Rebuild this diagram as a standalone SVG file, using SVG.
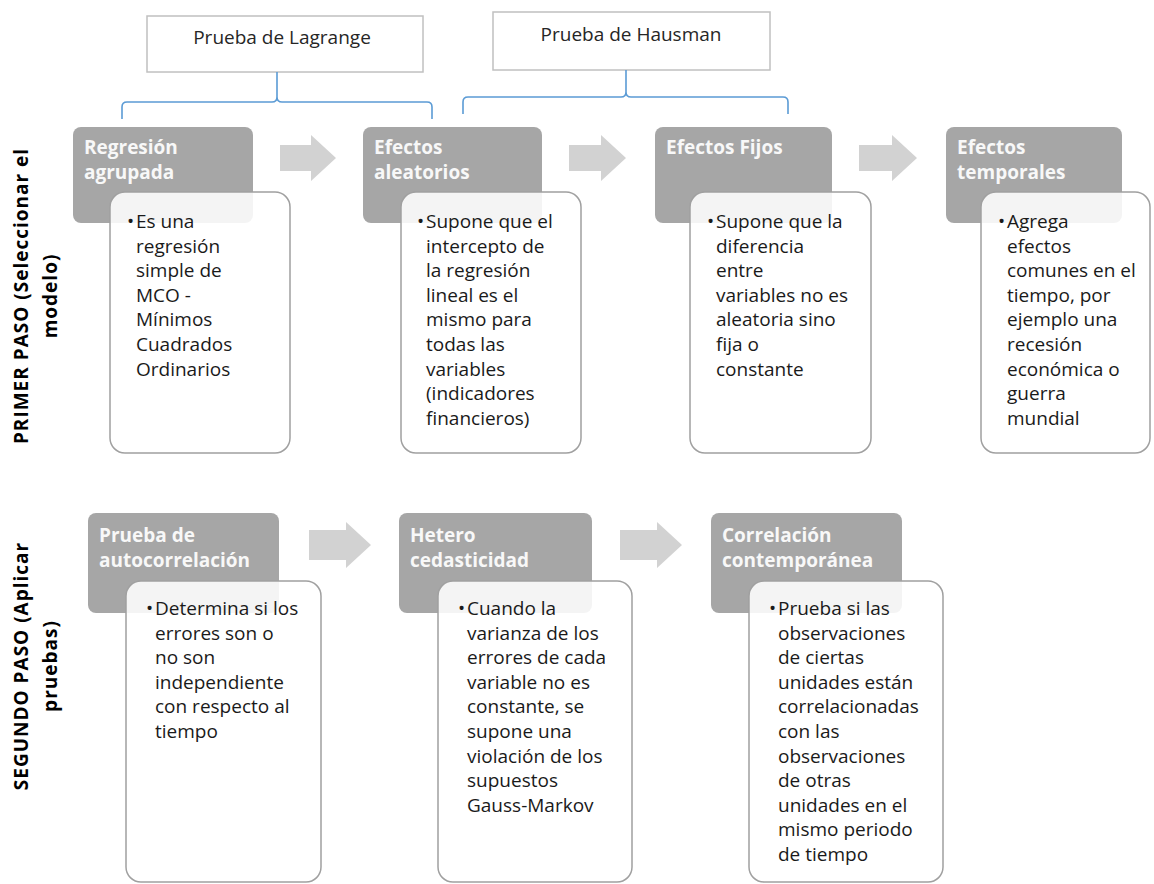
<svg xmlns="http://www.w3.org/2000/svg" width="1154" height="884" viewBox="0 0 1154 884">
<style>
.top{fill:#fff;stroke:#c0c0c0;stroke-width:1.5}
.toptxt{font-family:"Open Sans",sans-serif;font-size:19px;fill:#262626;text-anchor:middle}
.brace{fill:none;stroke:#5b9bd5;stroke-width:1.6}
.hdr{fill:#a6a6a6}
.hdrtxt{font-family:"Open Sans",sans-serif;font-size:19px;font-weight:bold;fill:#f8f8f8}
.desc{fill:#fff;fill-opacity:0.88;stroke:#a0a0a0;stroke-width:1.5}
.txt{font-family:"Open Sans",sans-serif;font-size:19px;fill:#1a1a1a}
.arrow{fill:#d2d2d2}
.side{font-family:"Open Sans",sans-serif;font-size:19px;font-weight:bold;fill:#000;text-anchor:middle;letter-spacing:1px}
</style>

<g id="side-labels">
<text class="side" transform="translate(28,296) rotate(-90)">PRIMER PASO (Seleccionar el</text>
<text class="side" transform="translate(57,296) rotate(-90)">modelo)</text>
<text class="side" transform="translate(28,666) rotate(-90)">SEGUNDO PASO (Aplicar</text>
<text class="side" transform="translate(57,666) rotate(-90)">pruebas)</text>
</g>

<g id="lagrange">
<rect class="top" x="147" y="16" width="276" height="56"/>
<text class="toptxt" x="282" y="44">Prueba de Lagrange</text>
</g>
<g id="hausman">
<rect class="top" x="493" y="12" width="277" height="58"/>
<text class="toptxt" x="631" y="41">Prueba de Hausman</text>
</g>

<g id="connectors">
<path class="brace" d="M277,72 V97 Q277,102 272,102 H127 Q122,102 122,107 V119 M277,97 Q277,102 282,102 H427 Q432,102 432,107 V119"/>
<path class="brace" d="M626,70 V92 Q626,97 621,97 H468 Q463,97 463,102 V114 M626,92 Q626,97 631,97 H783 Q788,97 788,102 V114"/>
<path class="arrow" d="M280,145 H311 V135 L336,158 L311,181 V171 H280 Z"/>
<path class="arrow" d="M569,145 H601 V135 L626,158 L601,181 V171 H569 Z"/>
<path class="arrow" d="M859,145 H892 V135 L917,158 L892,181 V171 H859 Z"/>
<path class="arrow" d="M309,530 H346 V522 L371,545 L346,568 V560 H309 Z"/>
<path class="arrow" d="M620,530 H657 V522 L682,545 L657,568 V560 H620 Z"/>
</g>

<g id="regresion">
<rect class="hdr" x="73" y="127" width="180" height="96" rx="8"/>
<text class="hdrtxt" x="84" y="154">Regresión</text>
<text class="hdrtxt" x="84" y="179">agrupada</text>
<rect class="desc" x="110" y="192" width="180" height="261" rx="15"/>
<text class="txt" x="127" y="228">•</text>
<text class="txt" x="136" y="228">Es una<tspan x="136" dy="24.6">regresión</tspan><tspan x="136" dy="24.6">simple de</tspan><tspan x="136" dy="24.6">MCO -</tspan><tspan x="136" dy="24.6">Mínimos</tspan><tspan x="136" dy="24.6">Cuadrados</tspan><tspan x="136" dy="24.6">Ordinarios</tspan></text>
</g>

<g id="aleatorios">
<rect class="hdr" x="363" y="127" width="179" height="96" rx="8"/>
<text class="hdrtxt" x="374" y="154">Efectos</text>
<text class="hdrtxt" x="374" y="179">aleatorios</text>
<rect class="desc" x="401" y="192" width="180" height="261" rx="15"/>
<text class="txt" x="417" y="228">•</text>
<text class="txt" x="426" y="228">Supone que el<tspan x="426" dy="24.6">intercepto de</tspan><tspan x="426" dy="24.6">la regresión</tspan><tspan x="426" dy="24.6">lineal es el</tspan><tspan x="426" dy="24.6">mismo para</tspan><tspan x="426" dy="24.6">todas las</tspan><tspan x="426" dy="24.6">variables</tspan><tspan x="426" dy="24.6">(indicadores</tspan><tspan x="426" dy="24.6">financieros)</tspan></text>
</g>

<g id="fijos">
<rect class="hdr" x="655" y="127" width="177" height="96" rx="8"/>
<text class="hdrtxt" x="666" y="154">Efectos Fijos</text>
<rect class="desc" x="690" y="192" width="181" height="261" rx="15"/>
<text class="txt" x="707" y="228">•</text>
<text class="txt" x="716" y="228">Supone que la<tspan x="716" dy="24.6">diferencia</tspan><tspan x="716" dy="24.6">entre</tspan><tspan x="716" dy="24.6">variables no es</tspan><tspan x="716" dy="24.6">aleatoria sino</tspan><tspan x="716" dy="24.6">fija o</tspan><tspan x="716" dy="24.6">constante</tspan></text>
</g>

<g id="temporales">
<rect class="hdr" x="946" y="127" width="176" height="96" rx="8"/>
<text class="hdrtxt" x="957" y="154">Efectos</text>
<text class="hdrtxt" x="957" y="179">temporales</text>
<rect class="desc" x="981" y="192" width="169" height="261" rx="15"/>
<text class="txt" x="998" y="228">•</text>
<text class="txt" x="1007" y="228">Agrega<tspan x="1007" dy="24.6">efectos</tspan><tspan x="1007" dy="24.6">comunes en el</tspan><tspan x="1007" dy="24.6">tiempo, por</tspan><tspan x="1007" dy="24.6">ejemplo una</tspan><tspan x="1007" dy="24.6">recesión</tspan><tspan x="1007" dy="24.6">económica o</tspan><tspan x="1007" dy="24.6">guerra</tspan><tspan x="1007" dy="24.6">mundial</tspan></text>
</g>

<g id="autocorrelacion">
<rect class="hdr" x="88" y="513" width="191" height="100" rx="8"/>
<text class="hdrtxt" x="99" y="542">Prueba de</text>
<text class="hdrtxt" x="99" y="567">autocorrelación</text>
<rect class="desc" x="126" y="581" width="195" height="301" rx="15"/>
<text class="txt" x="146" y="615">•</text>
<text class="txt" x="155" y="615">Determina si los<tspan x="155" dy="24.6">errores son o</tspan><tspan x="155" dy="24.6">no son</tspan><tspan x="155" dy="24.6">independiente</tspan><tspan x="155" dy="24.6">con respecto al</tspan><tspan x="155" dy="24.6">tiempo</tspan></text>
</g>

<g id="heterocedasticidad">
<rect class="hdr" x="399" y="513" width="193" height="100" rx="8"/>
<text class="hdrtxt" x="410" y="542">Hetero</text>
<text class="hdrtxt" x="410" y="567">cedasticidad</text>
<rect class="desc" x="438" y="581" width="194" height="301" rx="15"/>
<text class="txt" x="458" y="615">•</text>
<text class="txt" x="467" y="615">Cuando la<tspan x="467" dy="24.6">varianza de los</tspan><tspan x="467" dy="24.6">errores de cada</tspan><tspan x="467" dy="24.6">variable no es</tspan><tspan x="467" dy="24.6">constante, se</tspan><tspan x="467" dy="24.6">supone una</tspan><tspan x="467" dy="24.6">violación de los</tspan><tspan x="467" dy="24.6">supuestos</tspan><tspan x="467" dy="24.6">Gauss-Markov</tspan></text>
</g>

<g id="correlacion">
<rect class="hdr" x="711" y="513" width="191" height="100" rx="8"/>
<text class="hdrtxt" x="722" y="542">Correlación</text>
<text class="hdrtxt" x="722" y="567">contemporánea</text>
<rect class="desc" x="749" y="581" width="194" height="301" rx="15"/>
<text class="txt" x="769" y="615">•</text>
<text class="txt" x="778" y="615">Prueba si las<tspan x="778" dy="24.6">observaciones</tspan><tspan x="778" dy="24.6">de ciertas</tspan><tspan x="778" dy="24.6">unidades están</tspan><tspan x="778" dy="24.6">correlacionadas</tspan><tspan x="778" dy="24.6">con las</tspan><tspan x="778" dy="24.6">observaciones</tspan><tspan x="778" dy="24.6">de otras</tspan><tspan x="778" dy="24.6">unidades en el</tspan><tspan x="778" dy="24.6">mismo periodo</tspan><tspan x="778" dy="24.6">de tiempo</tspan></text>
</g>
</svg>
